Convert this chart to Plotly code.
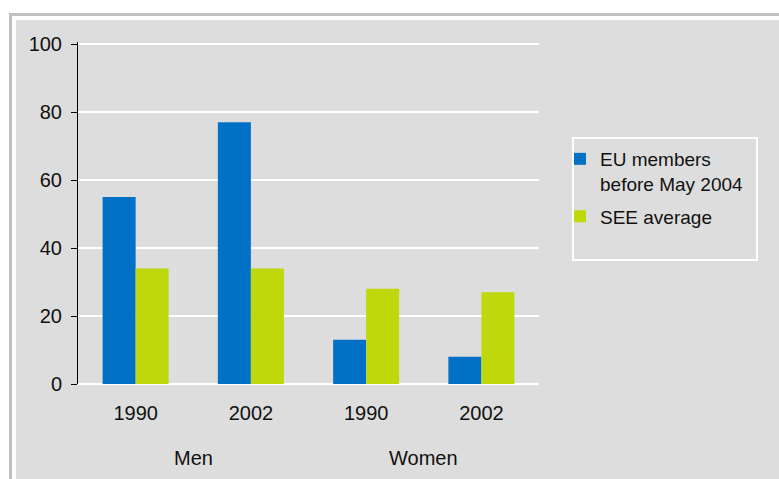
import plotly.graph_objects as go

# Data
groups = ["Men", "Men", "Women", "Women"]
years = ["1990", "2002", "1990", "2002"]
eu_members = [55, 77, 13, 8]
see_average = [34, 34, 28, 27]
series_names = ["EU members<br>before May 2004", "SEE average"]

blue = "#0071c5"
green = "#bed80b"
panel = "#dddddd"
font_family = "Arial, Liberation Sans, sans-serif"

xpos = list(range(len(years)))

fig = go.Figure()
fig.add_trace(go.Bar(x=xpos, y=eu_members, name=series_names[0],
                     marker_color=blue, marker_line_width=0, legendgroup="a"))
fig.add_trace(go.Bar(x=xpos, y=see_average, name=series_names[1],
                     marker_color=green, marker_line_width=0, legendgroup="b"))

# plot area spans x 78..539 and y 42..384 px (y range a bit above 100 so the top gridline shows)
def py(pix):
    return (384 - pix) / 342.0

def px(pix):
    return (pix - 78) / 461.0

# group labels centred under their categories
annotations = []
for g in dict.fromkeys(groups):
    idx = [i for i, v in enumerate(groups) if v == g]
    annotations.append(dict(x=sum(idx) / len(idx), xref="x", y=py(458), yref="paper",
                            text=g, showarrow=False, yanchor="middle",
                            font=dict(size=20, color="#111111")))

shapes = [
    # grey panel behind everything
    dict(type="rect", xref="paper", yref="paper", x0=px(16), x1=px(800), y0=py(500), y1=py(20),
         fillcolor=panel, line_width=0, layer="below"),
    # outer frame
    dict(type="rect", xref="paper", yref="paper", x0=px(10.5), x1=px(830), y0=py(540), y1=py(14.5),
         fillcolor="rgba(0,0,0,0)", line=dict(color="#c0c0c0", width=3), layer="below"),
    # legend box
    dict(type="rect", xref="paper", yref="paper", x0=px(573), x1=px(757), y0=py(260), y1=py(138),
         fillcolor="rgba(0,0,0,0)", line=dict(color="white", width=2), layer="below"),
]

fig.update_layout(
    width=779, height=479,
    margin=dict(l=78, r=240, t=42, b=95),
    paper_bgcolor="white",
    plot_bgcolor="rgba(0,0,0,0)",
    barmode="group",
    bargap=0.427,
    bargroupgap=0,
    font=dict(family=font_family, size=20, color="#111111"),
    showlegend=True,
    legend=dict(x=px(560), y=py(140), xanchor="left", yanchor="top", xref="paper", yref="paper",
                bgcolor="rgba(0,0,0,0)", borderwidth=0, valign="top",
                traceorder="grouped", tracegroupgap=5,
                font=dict(size=19, color="#111111")),
    annotations=annotations,
    shapes=shapes,
)

fig.update_xaxes(range=[-0.5, len(years) - 0.5], tickvals=xpos, ticktext=years,
                 showgrid=False, zeroline=False, showline=False,
                 ticks="outside", ticklen=11, tickcolor="rgba(0,0,0,0)",
                 tickfont=dict(size=20))
fig.update_yaxes(range=[0, 100.6], tickvals=[0, 20, 40, 60, 80, 100],
                 showgrid=True, gridcolor="white", gridwidth=1.5,
                 zeroline=True, zerolinecolor="white", zerolinewidth=1.5,
                 showline=True, linecolor="black", linewidth=1,
                 ticks="outside", ticklen=6, tickcolor="black", tickwidth=1,
                 ticklabelstandoff=5, tickfont=dict(size=20))

fig.write_html("out.html", config={"displayModeBar": False},
               post_script="document.body.style.margin='0';")
